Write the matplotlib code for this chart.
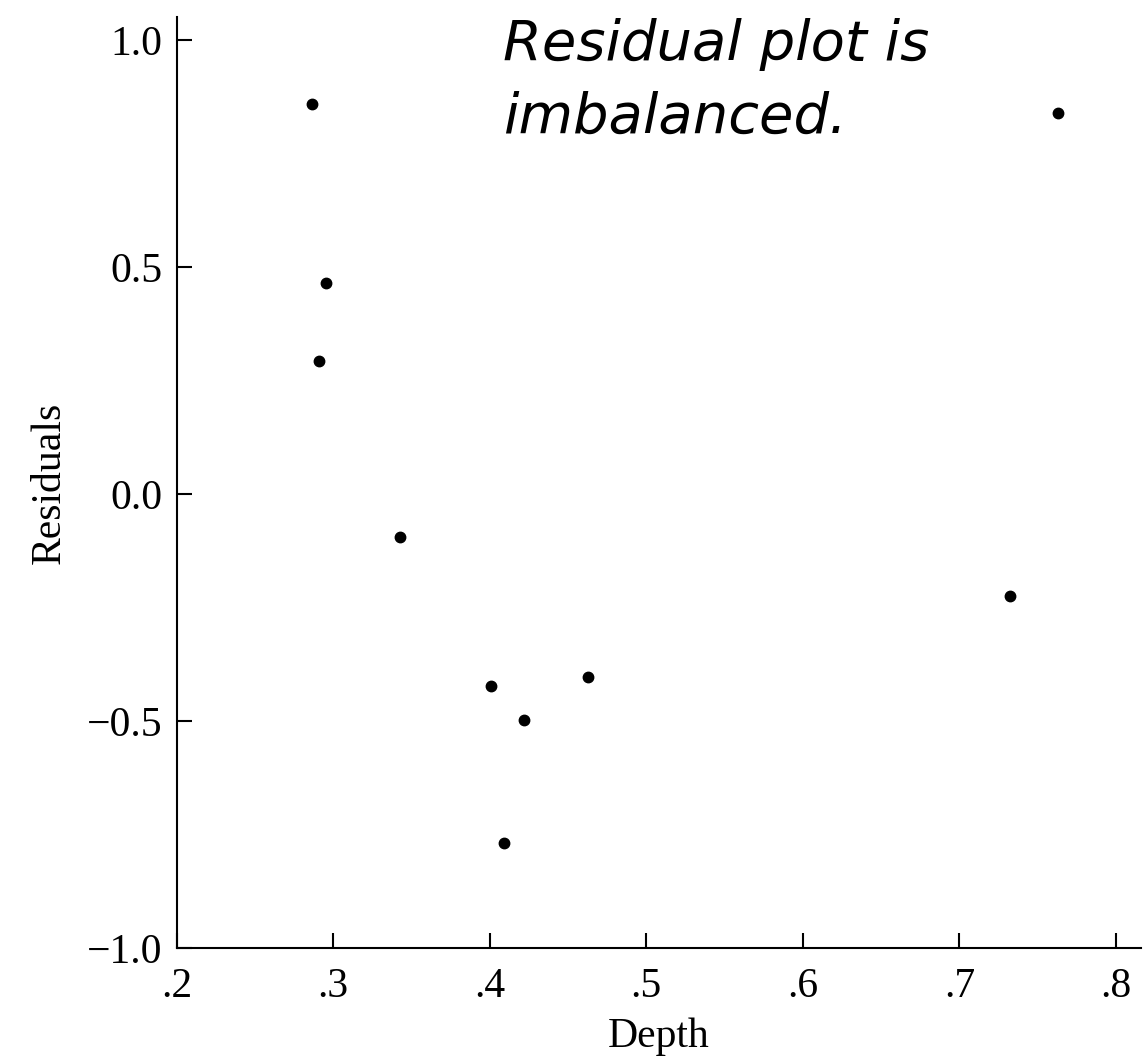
import matplotlib.pyplot as plt

# residuals from the depth regression
depth = [0.2865, 0.2954, 0.2912, 0.3429, 0.4006, 0.4221, 0.4093, 0.4625, 0.7323, 0.7628]
residuals = [0.859, 0.466, 0.293, -0.093, -0.423, -0.496, -0.768, -0.403, -0.223, 0.840]

xticks = [0.2, 0.3, 0.4, 0.5, 0.6, 0.7, 0.8]
xticklabels = ['.2', '.3', '.4', '.5', '.6', '.7', '.8']
yticks = [-1.0, -0.5, 0.0, 0.5, 1.0]
yticklabels = ['\u22121.0', '\u22120.5', '0.0', '0.5', '1.0']

serif = 'Liberation Serif'

fig = plt.figure(figsize=(11.46, 10.58), dpi=100)
ax = fig.add_axes([0.1542, 0.1035, 0.8414, 0.8804])

ax.plot(depth, residuals, 'o', color='black', markersize=7.5, linestyle='none')

ax.set_xlim(0.2, 0.816)
ax.set_ylim(-1.0, 1.051)

ax.spines['top'].set_visible(False)
ax.spines['right'].set_visible(False)
for s in ['left', 'bottom']:
    ax.spines[s].set_linewidth(1.5)

ax.set_xticks(xticks)
ax.set_xticklabels(xticklabels, fontfamily=serif, fontsize=30)
ax.set_yticks(yticks)
ax.set_yticklabels(yticklabels, fontfamily=serif, fontsize=30)
ax.tick_params(axis='both', direction='in', length=10.5, width=1.5)
ax.tick_params(axis='x', pad=14)
ax.tick_params(axis='y', pad=10.5)

ax.set_xlabel('Depth', fontfamily=serif, fontsize=30, labelpad=8)
ax.set_ylabel('Residuals', fontfamily=serif, fontsize=30, labelpad=12.5)

# note in the upper part of the plot
fig.text(503 / 1146, 1 - 60 / 1058, 'Residual plot is', fontfamily='DejaVu Sans',
         style='italic', fontsize=40.3, va='baseline', ha='left')
fig.text(503 / 1146, 1 - 133 / 1058, 'imbalanced.', fontfamily='DejaVu Sans',
         style='italic', fontsize=40.3, va='baseline', ha='left')

fig.savefig('out.png', dpi=100)
